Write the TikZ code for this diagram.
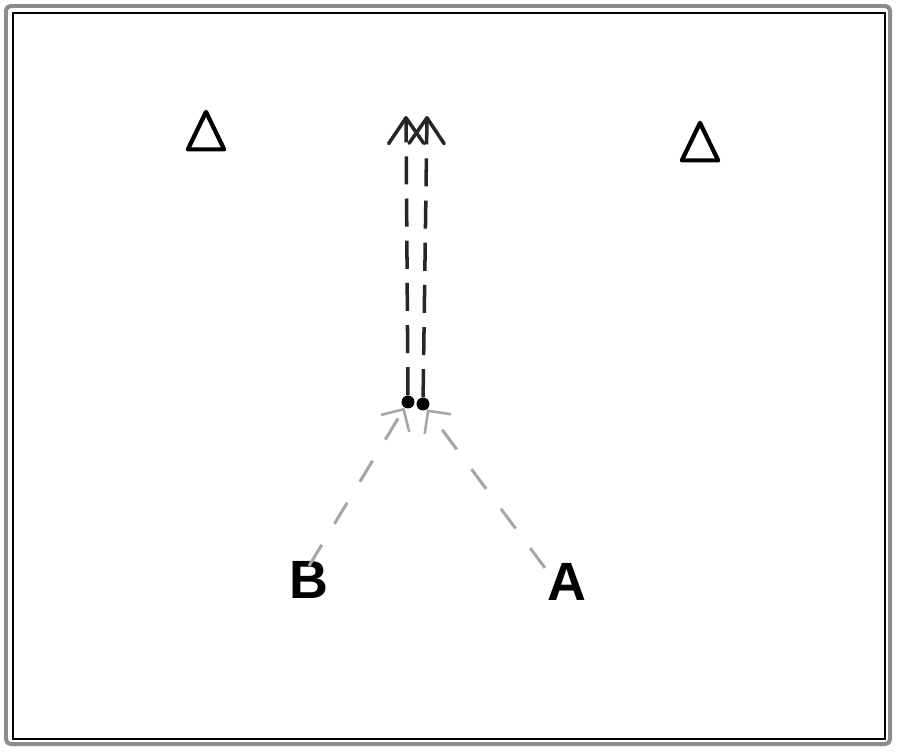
\documentclass[tikz,border=0pt]{standalone}
\usepackage{fontspec}
\setmainfont{Liberation Sans}
\usetikzlibrary{arrows.meta,shapes.geometric,positioning}

\tikzset{
  letter/.style={font=\fontsize{46}{46}\selectfont\bfseries, inner sep=0pt},
  tri/.style={draw, line width=3.6pt, line join=round, isosceles triangle,
    isosceles triangle stretches, shape border rotate=90,
    minimum width=31pt, minimum height=32pt, inner sep=0pt},
  feed/.style={draw=black!35, line width=2.6pt, dash pattern=on 21pt off 21pt,
    -{Straight Barb[length=14pt, width=28pt, line width=2.2pt]}},
  rise/.style={draw=black!85, line width=3pt, dash pattern=on 24pt off 12pt,
    -{Straight Barb[length=22pt, width=30pt, line width=3pt, round]}},
  knot/.style={circle, fill=black, inner sep=0pt, minimum size=11pt}
}

\begin{document}
\begin{tikzpicture}[x=0.03cm, y=-0.03cm]
    \useasboundingbox (0,0) rectangle (900,752);
    \draw[black!45, line width=3.4pt, rounded corners=4pt] (6,6) rectangle (890,744);
    \draw[black, line width=1.2pt] (13,13) rectangle (885,739);

    \node[tri] (triL) at (206,138) {};
    \node[tri] (triR) at (700,149) {};

    \node[letter] (B) at (309,580) {B};
    \node[letter] (A) at (567,582) {A};

    \node[knot] (jL) at (408,402) {};
    \node[knot] (jR) at (423,404) {};
    \coordinate (tL) at (406,116);
    \coordinate (tR) at (427,116);

    \draw[feed] ([yshift=-4pt]B.north) -- (jL);
    \draw[feed] ([xshift=-2pt,yshift=-4pt]A.north west) -- (jR);

    \draw[rise] (jL) -- (tL);
    \draw[rise] (jR) -- (tR);
\end{tikzpicture}
\end{document}
